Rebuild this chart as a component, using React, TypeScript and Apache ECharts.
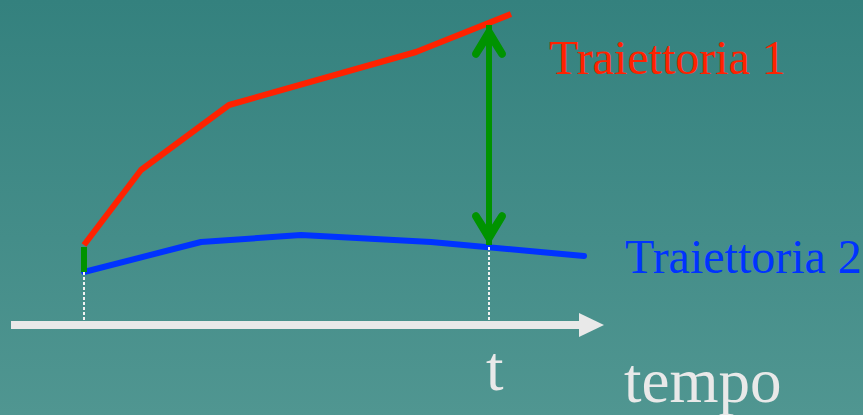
import React, { useEffect, useRef } from "react";
import * as echarts from "echarts";

// Trajectory 1 (red): time, value
const red1Time = [7.3, 13.0, 21.8, 40.5, 50.0];
const red1Value = [8.0, 15.5, 22.0, 27.3, 31.1];
// Trajectory 2 (blue)
const blue2Time = [7.3, 19.0, 29.0, 42.0, 57.3];
const blue2Value = [5.3, 8.3, 9.0, 8.3, 6.9];
// Key instants
const startTime = 7.3;
const tTime = 47.8;
// Initial gap (green segment) and gap at time t (double arrow)
const startGap = [7.8, 5.3];
const tGap = [8.0, 30.0];
const tBlue = 7.8;
const axisBase = 0.3;

const labels = {
  traj1: "Traiettoria 1",
  traj2: "Traiettoria 2",
  t: "t",
  tempo: "tempo",
};

const chevron =
  "path://M50,0M50,100L100,186Q104,196 94,202Q86,206 80,198L50,150L20,198Q14,206 6,202Q-4,196 0,186Z";

export default function App() {
  const ref = useRef<HTMLDivElement>(null);
  useEffect(() => {
    if (!ref.current) return;
    const chart = echarts.init(ref.current, undefined, { renderer: "svg" });
    const font = '"Liberation Serif", "Times New Roman", serif';
    const red = "#ff2200";
    const blue = "#0033ff";
    const green = "#009300";
    const white = "#e9e9e9";
    chart.setOption({
      animation: false,
      backgroundColor: new echarts.graphic.LinearGradient(0, 0, 0, 1, [
        { offset: 0, color: "#34817e" },
        { offset: 1, color: "#509691" },
      ]),
      grid: { left: 11, right: 271.5, top: 0, bottom: 90 },
      xAxis: {
        type: "value",
        min: 0,
        max: 58.05,
        axisLine: {
          show: true,
          onZero: false,
          symbol: ["none", "triangle"],
          symbolSize: [24, 25],
          lineStyle: { color: white, width: 8, cap: "butt" },
        },
        axisTick: { show: false },
        axisLabel: { show: false },
        splitLine: { show: false },
      },
      yAxis: {
        type: "value",
        min: 0,
        max: 32.5,
        show: false,
        splitLine: { show: false },
      },
      series: [
        {
          type: "line",
          name: "guides",
          data: [],
          z: 1,
          silent: true,
          markLine: {
            silent: true,
            symbol: "none",
            label: { show: false },
            lineStyle: { color: "#f2f2f2", width: 2, type: [3, 2] },
            emphasis: { disabled: true },
            data: [
              [{ coord: [startTime, blue2Value[0]] }, { coord: [startTime, axisBase] }],
              [{ coord: [tTime, tBlue] }, { coord: [tTime, axisBase] }],
            ],
          },
        },
        {
          type: "line",
          name: labels.traj1,
          data: red1Time.map((t, i) => [t, red1Value[i]]),
          showSymbol: false,
          symbol: "none",
          z: 2,
          lineStyle: { color: red, width: 6, join: "round" },
        },
        {
          type: "line",
          name: labels.traj2,
          data: blue2Time.map((t, i) => [t, blue2Value[i]]),
          showSymbol: false,
          symbol: "none",
          z: 2,
          lineStyle: { color: blue, width: 6, join: "round", cap: "round" },
        },
        {
          type: "line",
          name: "gaps",
          data: [],
          z: 3,
          silent: true,
          markLine: {
            silent: true,
            symbol: "none",
            label: { show: false },
            emphasis: { disabled: true },
            lineStyle: { color: green, width: 6, type: "solid" },
            data: [
              [
                { coord: [startTime, startGap[0]] },
                { coord: [startTime, startGap[1]] },
              ],
              [
                { coord: [tTime, tGap[0]], symbol: chevron, symbolSize: [34, 66] },
                { coord: [tTime, tGap[1]], symbol: chevron, symbolSize: [34, 66] },
              ],
            ],
          },
        },
      ],
      graphic: [
        {
          type: "text",
          style: {
            text: labels.traj1,
            x: 549,
            y: 57,
            fill: red,
            font: `48px ${font}`,
            verticalAlign: "middle",
            textVerticalAlign: "middle",
          },
        },
        {
          type: "text",
          style: {
            text: labels.traj2,
            x: 625,
            y: 256,
            fill: blue,
            font: `48px ${font}`,
            verticalAlign: "middle",
            textVerticalAlign: "middle",
          },
        },
        {
          type: "text",
          style: {
            text: labels.t,
            x: 486,
            y: 369,
            fill: white,
            font: `63px ${font}`,
            verticalAlign: "middle",
            textVerticalAlign: "middle",
          },
        },
        {
          type: "text",
          style: {
            text: labels.tempo,
            x: 624,
            y: 381,
            fill: white,
            font: `63px ${font}`,
            verticalAlign: "middle",
            textVerticalAlign: "middle",
          },
        },
      ],
    });
    return () => chart.dispose();
  }, []);
  return (
    <div
      ref={ref}
      style={{ position: "fixed", left: 0, top: 0, width: 863, height: 415 }}
    />
  );
}
